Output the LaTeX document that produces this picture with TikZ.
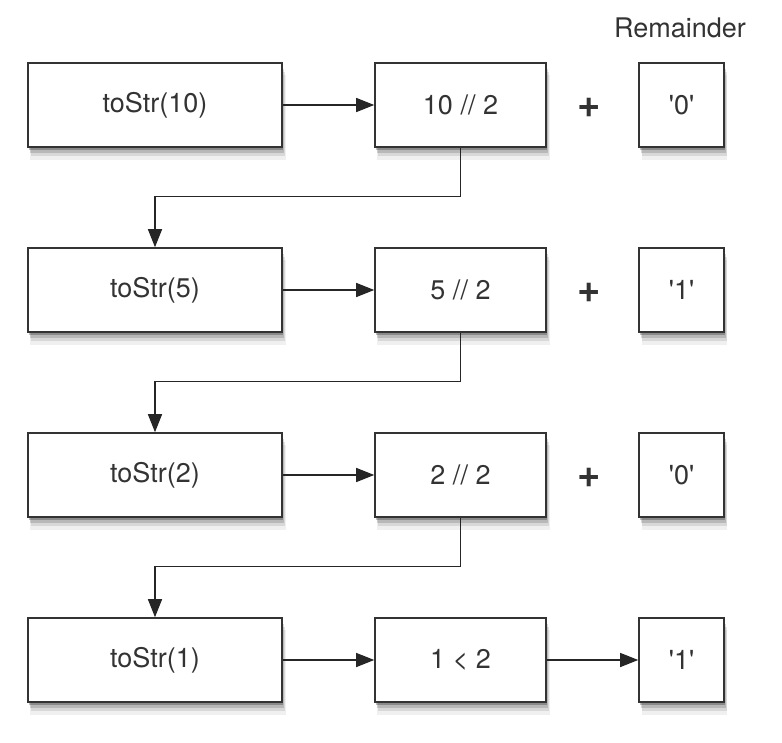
\documentclass[tikz,border=0pt]{standalone}
\usepackage{fontspec}
\setmainfont{TeX Gyre Heros}
\usepackage{tikz}
\usetikzlibrary{arrows.meta,shadows}
\tikzset{
% A soft shadow made of a few layers
soft shadow/.style={
  general shadow={fill=black,opacity=0.06,shadow xshift=3pt,shadow yshift=-12pt,shadow scale=1.01},
  general shadow={fill=black,opacity=0.10,shadow xshift=3pt,shadow yshift=-9pt},
  general shadow={fill=black,opacity=0.15,shadow xshift=2pt,shadow yshift=-6pt},
  general shadow={fill=black,opacity=0.25,shadow xshift=1pt,shadow yshift=-3pt}},
% Boxes for the calls, the divisions and the remainders
call box/.style={rectangle,draw=black!80,line width=1.6pt,fill=white,
  minimum width=254pt,minimum height=84pt,soft shadow},
div box/.style={call box,minimum width=171pt},
rem box/.style={call box,minimum width=85pt},
% The plus signs between division and remainder
plus sign/.style={font=\fontsize{40}{44}\selectfont\bfseries},
% Arrows between the boxes
step arrow/.style={line width=1.3pt,draw=black!85,-{Triangle[length=18pt,width=14pt]}}
}

\begin{document}
\begin{tikzpicture}[x=1pt,y=-1pt,font=\fontsize{27}{32}\selectfont,text=black!80]
      \useasboundingbox (0,0) rectangle (782,742);
      % Header of the right column
      \node(remhead) at (680,28){Remainder};
      % First row
      \node(call1)[call box] at (155,105){toStr(10)};
      \node(div1)[div box] at (460.5,105){10 // 2};
      \node(plus1)[plus sign] at (589,108){+};
      \node(rem1)[rem box] at (681.5,105){\textquotesingle 0\textquotesingle};
      % Second row
      \node(call2)[call box] at (155,290){toStr(5)};
      \node(div2)[div box] at (460.5,290){5 // 2};
      \node(plus2)[plus sign] at (589,293){+};
      \node(rem2)[rem box] at (681.5,290){\textquotesingle 1\textquotesingle};
      % Third row
      \node(call3)[call box] at (155,475){toStr(2)};
      \node(div3)[div box] at (460.5,475){2 // 2};
      \node(plus3)[plus sign] at (589,478){+};
      \node(rem3)[rem box] at (681.5,475){\textquotesingle 0\textquotesingle};
      % Last row: no more division
      \node(call4)[call box] at (155,660){toStr(1)};
      \node(div4)[div box] at (460.5,660){1 < 2};
      \node(rem4)[rem box] at (681.5,660){\textquotesingle 1\textquotesingle};
      % Arrows along the rows
      \draw[step arrow] (call1) -- (div1);
      \draw[step arrow] (call2) -- (div2);
      \draw[step arrow] (call3) -- (div3);
      \draw[step arrow] (call4) -- (div4);
      \draw[step arrow] (div4) -- (rem4);
      % Arrows down to the next call
      \draw[step arrow] (div1.south) -- ++(0,49) -| (call2.north);
      \draw[step arrow] (div2.south) -- ++(0,49) -| (call3.north);
      \draw[step arrow] (div3.south) -- ++(0,49) -| (call4.north);
\end{tikzpicture}
\end{document}
